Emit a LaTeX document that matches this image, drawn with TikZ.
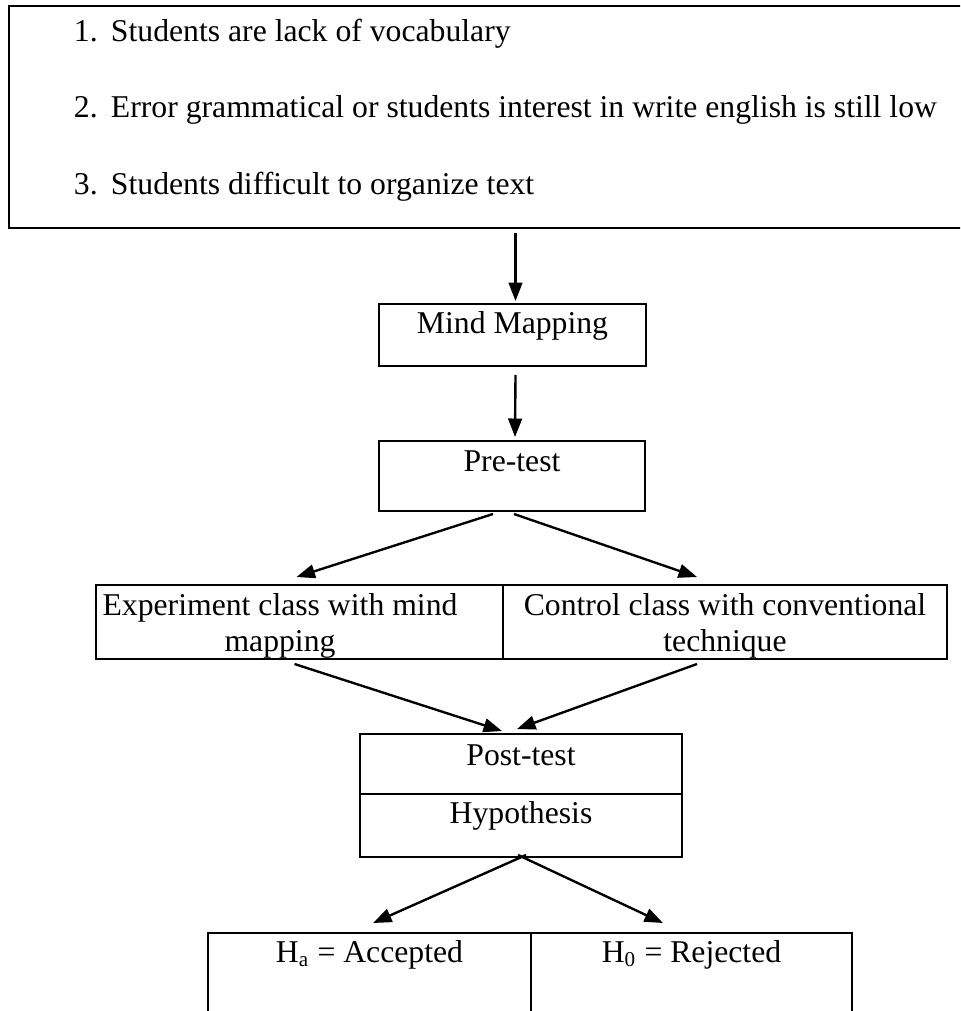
\documentclass[tikz,border=0pt]{standalone}
\usepackage{fontspec}
\setmainfont{Liberation Serif}
\usetikzlibrary{arrows.meta,calc}
\newlength{\pxl}
\setlength{\pxl}{0.3785pt}

\begin{document}
\begin{tikzpicture}[->,>={Triangle[length=7pt,width=5.2pt]},line width=0.75pt,
                    x=0.3785pt,y=-0.3785pt,font=\fontsize{12pt}{13.8pt}\selectfont]
  \tikzstyle{box}=[draw=black,inner xsep=0pt,inner ysep=0pt,anchor=base]
  \tikzstyle{cell}=[draw=black,align=center,inner sep=0pt,minimum height=74\pxl]
  \tikzstyle{item}=[anchor=base west,inner sep=0pt]
  \tikzstyle{arr}=[line width=0.9pt]

  \useasboundingbox (0,0) rectangle (960,1011);
  \clip (0,0) rectangle (960,1011);

  \node[draw=black,inner sep=0pt,minimum width=992\pxl,minimum height=222\pxl] (problems) at (505,117) {};
  \node[item] (item1) at (73,41)  {\makebox[37\pxl][l]{1.}Students are lack of vocabulary};
  \node[item] (item2) at (73,117) {\makebox[37\pxl][l]{2.}Error grammatical or students interest in write english is still low};
  \node[item] (item3) at (73,194) {\makebox[37\pxl][l]{3.}Students difficult to organize text};

  \node[box,minimum width=267\pxl,text height=29\pxl,text depth=33\pxl] (mind) at (512.5,333) {Mind Mapping};
  \node[box,minimum width=266\pxl,text height=30\pxl,text depth=40\pxl] (pre) at (512,471) {Pre-test};
  \node[cell,minimum width=407\pxl] (exp) at (299.5,622) {\rule{0pt}{30\pxl}Experiment class with mind\hspace*{39\pxl}\\ mapping\hspace*{39\pxl}};
  \node[cell,minimum width=444\pxl] (ctrl) at (725,622) {\rule{0pt}{30\pxl}Control class with conventional\\ technique};
  \node[box,minimum width=322\pxl,text height=31\pxl,text depth=29\pxl] (post) at (521,765) {Post-test};
  \node[box,minimum width=322\pxl,text height=29\pxl,text depth=34\pxl] (hyp) at (521,823) {Hypothesis};
  \node[box,minimum width=323\pxl,text height=29\pxl,text depth=120\pxl] (ha) at (369.5,962) {H\textsubscript{a} = Accepted};
  \node[box,minimum width=321\pxl,text height=29\pxl,text depth=120\pxl] (hnull) at (691.5,962) {H\textsubscript{0} = Rejected};

  % arrows
  \draw[arr] ($(mind.north |- problems.south)+(3,4)$) -- ($(mind.north)+(3,-2)$);
  \draw[arr] ($(mind.south)+(3,8)$) -- ($(pre.north)+(3,-3)$);
  \draw[arr] ($(pre.south)+(-19,2)$) -- ($(exp.north)+(-3,-7)$);
  \draw[arr] ($(pre.south)+(2,2)$) -- ($(ctrl.north)+(-28,-7)$);
  \draw[arr] ($(exp.south)+(-5,4)$) -- ($(post.north)+(-19,-2)$);
  \draw[arr] ($(ctrl.south)+(-28,4)$) -- ($(post.north)+(-4,-4)$);
  \draw[arr] ($(hyp.south)+(5,-3)$) -- ($(ha.north)+(3.5,-9)$);
  \draw[arr] ($(hyp.south)+(-3,-3)$) -- ($(hnull.north)+(-28.5,-9)$);
\end{tikzpicture}
\end{document}
